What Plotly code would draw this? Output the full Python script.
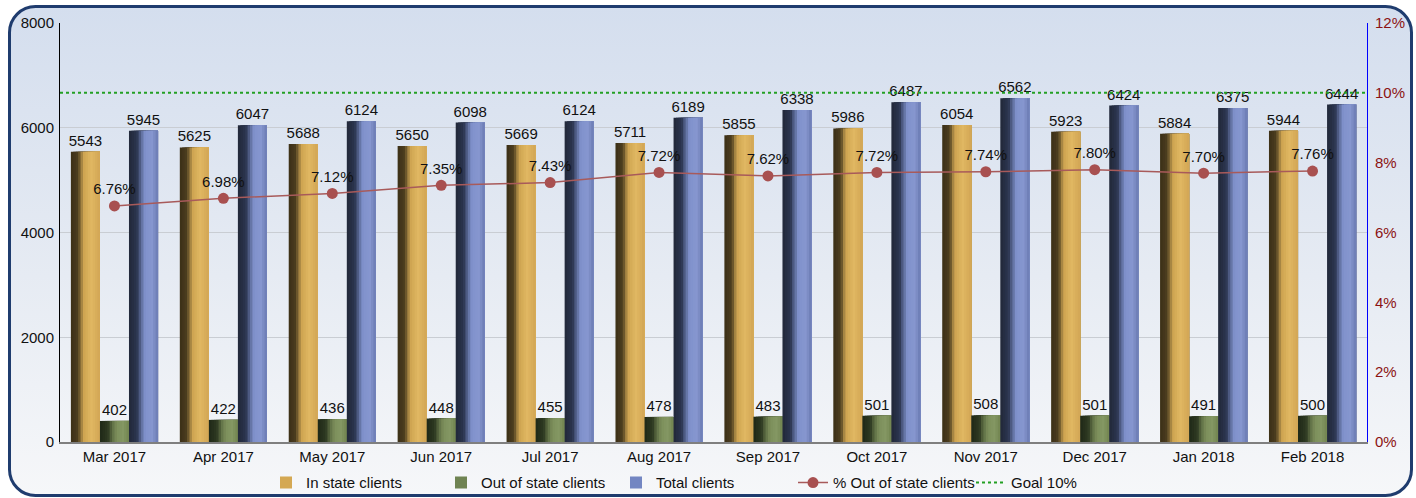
import plotly.graph_objects as go
import urllib.parse

months = ["Mar 2017", "Apr 2017", "May 2017", "Jun 2017", "Jul 2017", "Aug 2017",
          "Sep 2017", "Oct 2017", "Nov 2017", "Dec 2017", "Jan 2018", "Feb 2018"]
in_state = [5543, 5625, 5688, 5650, 5669, 5711, 5855, 5986, 6054, 5923, 5884, 5944]
out_state = [402, 422, 436, 448, 455, 478, 483, 501, 508, 501, 491, 500]
total = [5945, 6047, 6124, 6098, 6124, 6189, 6338, 6487, 6562, 6424, 6375, 6444]
pct_out = [6.76, 6.98, 7.12, 7.35, 7.43, 7.72, 7.62, 7.72, 7.74, 7.80, 7.70, 7.76]
goal_pct = 10

W, H = 1416, 498
ML, MR, MT, MB = 60, 49, 23, 56
PW, PH = W - ML - MR, H - MT - MB
FONT = "Liberation Sans, Arial, sans-serif"


def hex2rgb(h):
    h = h.lstrip("#")
    return tuple(int(h[i:i + 2], 16) for i in (0, 2, 4))


def interp(stops, t):
    for (p0, c0), (p1, c1) in zip(stops, stops[1:]):
        if p0 <= t <= p1:
            f = (t - p0) / (p1 - p0) if p1 > p0 else 0
            a, b = hex2rgb(c0), hex2rgb(c1)
            return "rgb(%d,%d,%d)" % tuple(round(a[i] + (b[i] - a[i]) * f) for i in range(3))
    return stops[-1][1]


series = [
    ("In state clients", in_state, -0.40,
     [(0, "#3b2f17"), (0.25, "#4d3e20"), (0.36, "#a08040"), (0.46, "#d0a652"),
      (0.7, "#e0b762"), (1.0, "#d2a655")], "#d4a853"),
    ("Out of state clients", out_state, -0.1333,
     [(0, "#1f2818"), (0.28, "#2e3a22"), (0.42, "#5e6e44"), (0.58, "#7d8f5c"),
      (0.8, "#849763"), (1.0, "#71844f")], "#6f8352"),
    ("Total clients", total, 0.1333,
     [(0, "#222839"), (0.28, "#2c3550"), (0.4, "#56648f"), (0.55, "#8092cc"),
      (0.8, "#8696cf"), (1.0, "#6a7ab2")], "#7386c2"),
]
BW = 0.2667
NS = 12

fig = go.Figure()
for name, vals, off, stops, legcol in series:
    sw = BW / NS
    for i in range(NS):
        t = (i + 0.5) / NS
        fig.add_trace(go.Bar(
            x=months, y=vals, offset=off + i * sw, width=BW - i * sw,
            marker=dict(color=interp(stops, t), line=dict(width=0)),
            name=name, legendgroup=name, showlegend=False, hoverinfo="skip"))
    # legend entry
    fig.add_trace(go.Bar(
        x=months, y=[None] * len(months), offset=off, width=BW,
        marker=dict(color=legcol), name=name, legendgroup=name, showlegend=True,
        legend="legend"))
    # labels
    fig.add_trace(go.Bar(
        x=months, y=vals, offset=off, width=BW,
        marker=dict(color="rgba(0,0,0,0)"), text=[str(v) for v in vals],
        textposition="outside", constraintext="none",
        textfont=dict(size=15, color="#111111", family=FONT),
        cliponaxis=False, showlegend=False, hoverinfo="skip"))

fig.add_trace(go.Scatter(
    x=months, y=pct_out, yaxis="y2", mode="lines+markers+text",
    name="% Out of state clients", legend="legend2",
    line=dict(color="#a85a5a", width=1.5),
    marker=dict(color="#a85050", size=11, symbol="circle"),
    text=["%.2f%%" % v for v in pct_out], textposition="top center",
    textfont=dict(size=15, color="#111111", family=FONT), cliponaxis=False))

fig.add_shape(type="line", xref="paper", x0=0, x1=1, yref="y2", y0=goal_pct, y1=goal_pct,
              line=dict(color="#23a023", width=2, dash="dot"),
              showlegend=True, name="Goal 10%", legend="legend2")

svg = ('<svg xmlns="http://www.w3.org/2000/svg" width="1416" height="498" viewBox="0 0 1416 498" '
       'preserveAspectRatio="none"><defs><linearGradient id="g" x1="0" y1="0" x2="0" y2="1">'
       '<stop offset="0" stop-color="#d4deee"/><stop offset="0.55" stop-color="#e6ebf3"/>'
       '<stop offset="1" stop-color="#f6f7f9"/></linearGradient></defs>'
       '<rect x="9.5" y="6.5" width="1402" height="489" rx="26" ry="26" fill="url(#g)" '
       'stroke="#1f3c6e" stroke-width="3"/></svg>')
src = "data:image/svg+xml;charset=utf-8," + urllib.parse.quote(svg)

fig.add_layout_image(dict(
    source=src, xref="paper", yref="paper", x=-ML / PW, y=1 + MT / PH,
    sizex=W / PW, sizey=H / PH, xanchor="left", yanchor="top",
    sizing="stretch", layer="below"))

leg_common = dict(orientation="h", xanchor="left", y=-0.058, yanchor="top",
                  font=dict(size=15), bgcolor="rgba(0,0,0,0)", traceorder="normal",
                  entrywidthmode="pixels")

fig.update_layout(
    template="none",
    width=W, height=H, margin=dict(l=ML, r=MR, t=MT, b=MB, autoexpand=False),
    barmode="overlay", paper_bgcolor="white", plot_bgcolor="rgba(0,0,0,0)",
    font=dict(family=FONT, size=15, color="#111111"),
    showlegend=True,
    legend=dict(x=(266 - ML) / PW, entrywidth=130, **leg_common),
    legend2=dict(x=(793 - ML) / PW, entrywidth=133, **leg_common),
    xaxis=dict(type="category", range=[-0.5, 11.5], showgrid=False, showline=True,
               linecolor="#7f7f7f", linewidth=2, ticks="", tickfont=dict(size=15),
               automargin=False),
    yaxis=dict(range=[0, 8000], dtick=2000, showgrid=True, gridcolor="#c9cdd3",
               gridwidth=1, showline=True, linecolor="#000000", linewidth=1,
               ticks="", tickfont=dict(size=15), zeroline=False, ticklabelstandoff=2,
               automargin=False),
    yaxis2=dict(range=[0, 12], dtick=2, overlaying="y", side="right", showgrid=False,
                showline=True, linecolor="#0000ff", linewidth=1, ticks="",
                ticksuffix="%", tickfont=dict(size=15, color="#8b1212"), zeroline=False,
                ticklabelstandoff=4, automargin=False),
)

fig.write_html("out.html", config={"displayModeBar": False},
               post_script="document.body.style.margin='0';document.body.style.padding='0';"
                           "document.body.style.overflow='hidden';")
